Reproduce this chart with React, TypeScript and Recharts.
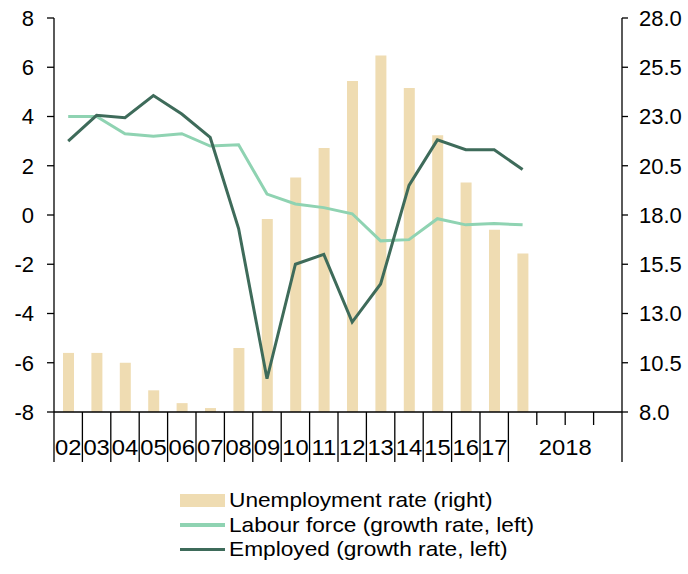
import { ComposedChart, Bar, Line, XAxis, YAxis, Legend } from 'recharts'

// calendar years 2002-2017, then the quarters of 2018
const years = ['02', '03', '04', '05', '06', '07', '08', '09', '10', '11', '12', '13', '14', '15', '16', '17']
const quarters2018 = ['Q1', 'Q2', 'Q3', 'Q4']

// unemployment rate, %, right axis (last value = 2018 Q1)
const unemployment = [11.0, 11.0, 10.5, 9.1, 8.45, 8.2, 11.25, 17.8, 19.9, 21.4, 24.8, 26.1, 24.45, 22.05, 19.65, 17.25, 16.05]
// growth rates, %, left axis
const labourForce = [4.0, 4.0, 3.3, 3.2, 3.3, 2.8, 2.85, 0.85, 0.45, 0.3, 0.05, -1.05, -1.0, -0.15, -0.4, -0.35, -0.4]
const employed = [3.0, 4.05, 3.95, 4.85, 4.1, 3.15, -0.55, -6.65, -2.0, -1.6, -4.35, -2.8, 1.2, 3.05, 2.65, 2.65, 1.85]

const leftTicks = [-8, -6, -4, -2, 0, 2, 4, 6, 8]
const rightTicks = [8, 10.5, 13, 15.5, 18, 20.5, 23, 25.5, 28]

const periods = [...years, ...quarters2018.map((q) => `2018 ${q}`)]

const data = periods.map((p, i) => ({
  period: p,
  unemployment: unemployment[i] ?? null,
  labourForce: labourForce[i] ?? null,
  employed: employed[i] ?? null,
}))

const W = 688
const H = 574
const LEFT_W = 54
const RIGHT_W = 66
const PLOT_W = W - LEFT_W - RIGHT_W
const BAND = PLOT_W / periods.length

const FONT = '"Liberation Sans", Arial, sans-serif'
const BAR = '#EFDCB2'
const LIGHT = '#8FD3B2'
const DARK = '#3E6B5A'

// slightly wide text, like the original export
function WideText({ x, y, children }: { x: number; y: number; children: string }) {
  return (
    <text transform={`translate(${x},${y}) scale(1.08,1)`} textAnchor="middle" fontSize={22} fontFamily={FONT} fill="#000">
      {children}
    </text>
  )
}

function PeriodTick(props: any) {
  const { x, y, payload, index } = props
  const value: string = payload.value
  const isQuarter = value.startsWith('2018')
  const left = x - BAND / 2
  const long = !isQuarter || value.endsWith('Q1')
  const last = index === periods.length - 1
  return (
    <g>
      <line x1={left} x2={left} y1={y} y2={y + (long ? 50 : 13)} stroke="#000" strokeWidth={1.3} />
      {last && <line x1={x + BAND / 2} x2={x + BAND / 2} y1={y} y2={y + 50} stroke="#000" strokeWidth={1.3} />}
      {!isQuarter && <WideText x={x} y={y + 43}>{value}</WideText>}
      {value.endsWith('Q1') && <WideText x={left + (BAND * quarters2018.length) / 2} y={y + 43}>2018</WideText>}
    </g>
  )
}

const legendItems = [
  { label: 'Unemployment rate (right)', color: BAR, kind: 'bar' },
  { label: 'Labour force (growth rate, left)', color: LIGHT, kind: 'line' },
  { label: 'Employed (growth rate, left)', color: DARK, kind: 'line' },
]

function LegendBox() {
  return (
    <div style={{ fontFamily: FONT, fontSize: 21, color: '#000' }}>
      {legendItems.map((it) => (
        <div key={it.label} style={{ display: 'flex', alignItems: 'center', height: 24.5, whiteSpace: 'nowrap' }}>
          <div style={{ width: 45, height: it.kind === 'bar' ? 13 : 3.5, background: it.color, marginRight: 4 }} />
          <span style={{ display: 'inline-block', transform: 'scaleX(1.08)', transformOrigin: 'left center' }}>{it.label}</span>
        </div>
      ))}
    </div>
  )
}

export default function App() {
  return (
    <div style={{ position: 'absolute', left: 0, top: 0, width: W, height: H, background: '#fff' }}>
      <ComposedChart width={W} height={H} data={data} margin={{ top: 18, right: 0, bottom: 102, left: 0 }}>
        <XAxis
          dataKey="period"
          height={60}
          interval={0}
          tickSize={0}
          tickMargin={0}
          tickLine={false}
          axisLine={{ stroke: '#000', strokeWidth: 1.3 }}
          tick={<PeriodTick />}
        />
        <YAxis
          yAxisId="left"
          domain={[-8, 8]}
          ticks={leftTicks}
          width={LEFT_W}
          tickSize={7}
          tickMargin={13}
          axisLine={{ stroke: '#000', strokeWidth: 1.3 }}
          tickLine={{ stroke: '#000', strokeWidth: 1.3 }}
          tick={{ fill: '#000', fontSize: 22, fontFamily: FONT }}
        />
        <YAxis
          yAxisId="right"
          orientation="right"
          domain={[8, 28]}
          ticks={rightTicks}
          tickFormatter={(v: number) => v.toFixed(1)}
          width={RIGHT_W}
          tickSize={6}
          tickMargin={11}
          axisLine={{ stroke: '#000', strokeWidth: 1.3 }}
          tickLine={{ stroke: '#000', strokeWidth: 1.3 }}
          tick={{ fill: '#000', fontSize: 22, fontFamily: FONT, textAnchor: 'start' }}
        />
        <Bar yAxisId="right" dataKey="unemployment" fill={BAR} barSize={11} isAnimationActive={false} />
        <Line yAxisId="left" type="linear" dataKey="labourForce" stroke={LIGHT} strokeWidth={3} dot={false} isAnimationActive={false} />
        <Line yAxisId="left" type="linear" dataKey="employed" stroke={DARK} strokeWidth={3} dot={false} isAnimationActive={false} />
        <Legend
          layout="vertical"
          align="center"
          verticalAlign="middle"
          wrapperStyle={{ top: 488, left: 180, width: 440 }}
          content={() => <LegendBox />}
        />
      </ComposedChart>
    </div>
  )
}
